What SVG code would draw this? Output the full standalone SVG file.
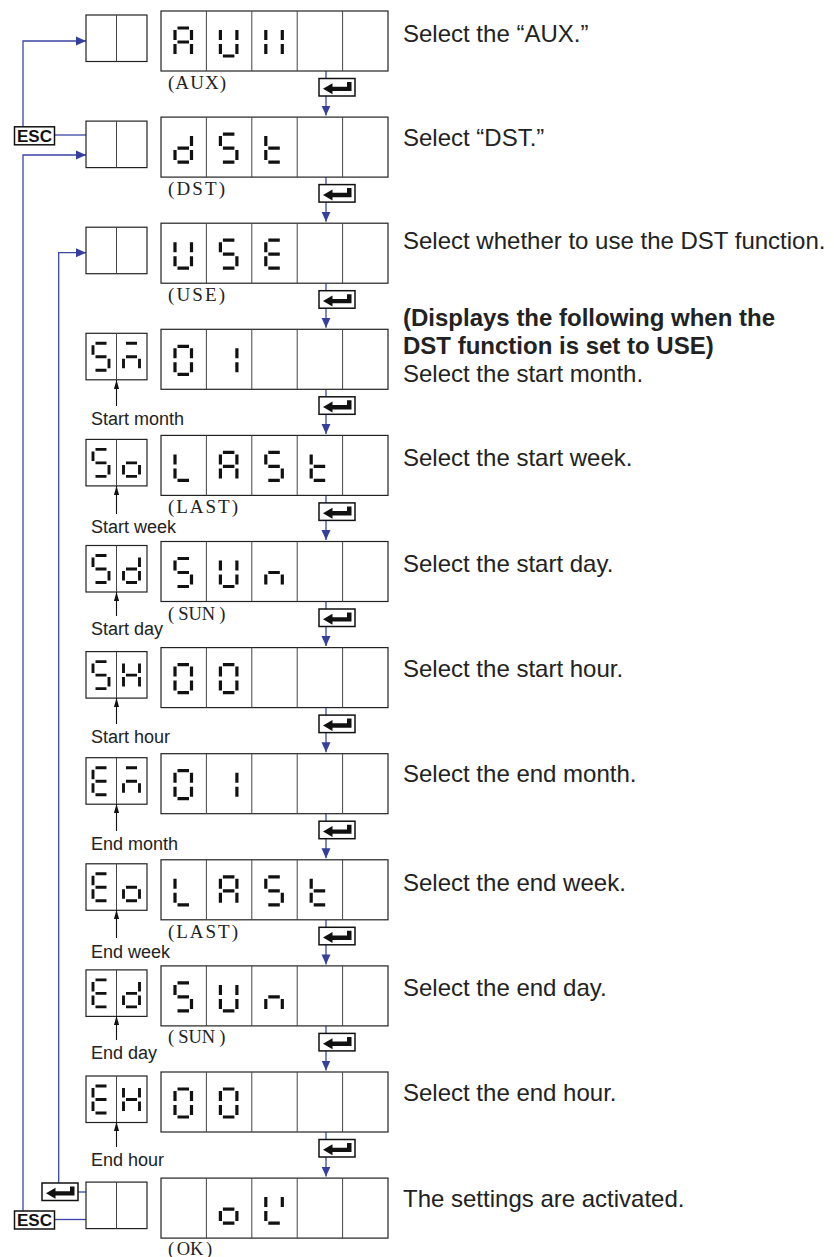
<svg xmlns="http://www.w3.org/2000/svg" width="834" height="1257" viewBox="0 0 834 1257">
<style>
.box{fill:#fff;stroke:#222;stroke-width:1.2}
.div{stroke:#444;stroke-width:1;fill:none}
.seg{stroke:#111;stroke-width:3.2;fill:none}
.sseg{stroke:#111;stroke-width:2.9;fill:none}
.blue{stroke:#3a46a4;stroke-width:1.3;fill:none}
.key{fill:#fff;stroke:#111;stroke-width:1.5}
.desc{font-family:"Liberation Sans",Arial,sans-serif;font-size:24px;fill:#222}
.bold{font-weight:bold}
.lbl{font-family:"Liberation Sans",Arial,sans-serif;font-size:18px;fill:#222}
.par{font-family:"Liberation Serif","Times New Roman",serif;font-size:19px;fill:#222}
.par2{font-family:"Liberation Serif","Times New Roman",serif;font-size:18.5px;fill:#222}
.up{stroke:#111;stroke-width:1.1;fill:none}
.esc{font-family:"Liberation Sans",Arial,sans-serif;font-size:17px;font-weight:bold;fill:#111}
</style>
<defs>
<marker id="ab" markerUnits="userSpaceOnUse" markerWidth="10" markerHeight="10" refX="10" refY="5" orient="auto"><path d="M0,0.5L10,5L0,9.5Z" fill="#343f9e"/></marker>
<marker id="ak" markerUnits="userSpaceOnUse" markerWidth="9" markerHeight="6" refX="9" refY="3" orient="auto"><path d="M0,0.4L9,3L0,5.6Z" fill="#111"/></marker>
<g id="bigbox"><rect class="box" x="0" y="0" width="227" height="60"/><path class="div" d="M45.4,0V60M90.8,0V60M136.2,0V60M181.6,0V60"/></g>
<g id="smallbox"><rect class="box" x="0" y="0" width="61" height="46.5"/><path class="div" d="M30.5,0V46.5"/></g>
<g id="enter"><rect class="key" x="0" y="0" width="36" height="17.5"/><path d="M4,10.3L13.5,4.8V8.2H28V3.5H32.5V12.6H13.5V15.8Z" fill="#111"/></g>
<g id="escbox"><rect class="key" x="0" y="0" width="40" height="18"/><text class="esc" x="20" y="15" text-anchor="middle">ESC</text></g>
<!-- large 7-seg glyphs -->
<path id="LA" class="seg" d="M16.5,17H28M30.5,19V29M30.5,33V43M14,33V43M14,19V29M16.5,31H28"/>
<path id="LU" class="seg" d="M30.5,19V29M30.5,33V43M16.5,45H28M14,33V43M14,19V29"/>
<path id="LX" class="seg" d="M30.5,19V29M30.5,33V43M14,33V43M14,19V29"/>
<path id="Ld" class="seg" d="M30.5,19V29M30.5,33V43M16.5,45H28M14,33V43M16.5,31H28"/>
<path id="L5" class="seg" d="M16.5,17H28M14,19V29M16.5,31H28M30.5,33V43M16.5,45H28"/>
<path id="Lt" class="seg" d="M14,19V29M14,33V43M16.5,31H28M16.5,45H28"/>
<path id="LE" class="seg" d="M16.5,17H28M14,19V29M16.5,31H28M14,33V43M16.5,45H28"/>
<path id="L0" class="seg" d="M16.5,17H28M30.5,19V29M30.5,33V43M16.5,45H28M14,33V43M14,19V29"/>
<path id="L1" class="seg" d="M30.5,19V29M30.5,33V43"/>
<path id="LL" class="seg" d="M14,19V29M14,33V43M16.5,45H28"/>
<path id="Ln" class="seg" d="M14,33V43M16.5,31H28M30.5,33V43"/>
<path id="Lo" class="seg" d="M30.5,33V43M16.5,45H28M14,33V43M16.5,31H28"/>
<path id="LK" class="seg" d="M14,19V29M14,33V43M30.5,19V29M16.5,45H28"/>
<!-- small 7-seg glyphs -->
<path id="s5" class="sseg" d="M9.5,10H20.5M7,12V21.5M9.5,23.5H20.5M23,25.5V35M9.5,37H20.5"/>
<path id="sm" class="sseg" d="M9.5,10H20.5M9.5,23.5H20.5M7,25.5V35M23,25.5V35"/>
<path id="so" class="sseg" d="M23,25.5V35M9.5,37H20.5M7,25.5V35M9.5,23.5H20.5"/>
<path id="sd" class="sseg" d="M23,12V21.5M23,25.5V35M9.5,37H20.5M7,25.5V35M9.5,23.5H20.5"/>
<path id="sH" class="sseg" d="M23,12V21.5M23,25.5V35M7,25.5V35M7,12V21.5M9.5,23.5H20.5"/>
<path id="sE" class="sseg" d="M9.5,10H20.5M7,12V21.5M9.5,23.5H20.5M7,25.5V35M9.5,37H20.5"/>
</defs>
<rect width="834" height="1257" fill="#fff"/>

<g id="connectors">
<path class="blue" marker-end="url(#ab)" d="M326,71V115.6"/>
<path class="blue" marker-end="url(#ab)" d="M326,177.1V221.7"/>
<path class="blue" marker-end="url(#ab)" d="M326,283.2V327.8"/>
<path class="blue" marker-end="url(#ab)" d="M326,389.3V433.9"/>
<path class="blue" marker-end="url(#ab)" d="M326,495.4V540"/>
<path class="blue" marker-end="url(#ab)" d="M326,601.5V646.1"/>
<path class="blue" marker-end="url(#ab)" d="M326,707.6V752.2"/>
<path class="blue" marker-end="url(#ab)" d="M326,813.7V858.3"/>
<path class="blue" marker-end="url(#ab)" d="M326,919.8V964.4"/>
<path class="blue" marker-end="url(#ab)" d="M326,1025.9V1070.5"/>
<path class="blue" marker-end="url(#ab)" d="M326,1132V1176.6"/>
<path class="blue" marker-end="url(#ab)" d="M23,127V41H86"/>
<path class="blue" d="M54.5,135H86"/>
<path class="blue" marker-end="url(#ab)" d="M23,1211V155H86"/>
<path class="blue" d="M54.5,1219.5H86"/>
<path class="blue" marker-end="url(#ab)" d="M58.7,1183V252.7H86"/>
<path class="blue" d="M78,1192H86"/>
<use href="#enter" x="319" y="78.5"/>
<use href="#enter" x="319" y="184.6"/>
<use href="#enter" x="319" y="290.7"/>
<use href="#enter" x="319" y="396.8"/>
<use href="#enter" x="319" y="502.9"/>
<use href="#enter" x="319" y="609"/>
<use href="#enter" x="319" y="715.1"/>
<use href="#enter" x="319" y="821.2"/>
<use href="#enter" x="319" y="927.3"/>
<use href="#enter" x="319" y="1033.4"/>
<use href="#enter" x="319" y="1139.5"/>
<use href="#escbox" x="14.5" y="126.8"/>
<use href="#escbox" x="14.5" y="1211"/>
<use href="#enter" x="42" y="1183"/>
</g>

<g id="row1">
<use href="#smallbox" x="86" y="15"/>
<use href="#bigbox" x="161" y="11"/>
<use href="#LA" x="161" y="11"/><use href="#LU" x="206.4" y="11"/><use href="#LX" x="251.8" y="11"/>
<text class="par" x="168" y="89" textLength="58" lengthAdjust="spacing">(AUX)</text>
<text class="desc" x="403" y="42">Select the “AUX.”</text>
</g>

<g id="row2">
<use href="#smallbox" x="86" y="121.1"/>
<use href="#bigbox" x="161" y="117.1"/>
<use href="#Ld" x="161" y="117.1"/><use href="#L5" x="206.4" y="117.1"/><use href="#Lt" x="251.8" y="117.1"/>
<text class="par" x="168" y="194.5" textLength="57" lengthAdjust="spacing">(DST)</text>
<text class="desc" x="403" y="145.5">Select “DST.”</text>
</g>

<g id="row3">
<use href="#smallbox" x="86" y="227.2"/>
<use href="#bigbox" x="161" y="223.2"/>
<use href="#LU" x="161" y="223.2"/><use href="#L5" x="206.4" y="223.2"/><use href="#LE" x="251.8" y="223.2"/>
<text class="par" x="168" y="300.5" textLength="57" lengthAdjust="spacing">(USE)</text>
<text class="desc" x="403" y="249">Select whether to use the DST function.</text>
</g>

<g id="row4">
<use href="#smallbox" x="86" y="333.3"/>
<use href="#s5" x="86" y="333.3"/><use href="#sm" x="116.5" y="333.3"/>
<use href="#bigbox" x="161" y="329.3"/>
<use href="#L0" x="161" y="329.3"/><use href="#L1" x="206.4" y="329.3"/>
<path class="up" marker-end="url(#ak)" d="M116.5,406V380"/>
<text class="lbl" x="91" y="425">Start month</text>
<text class="desc bold" x="403" y="325.5">(Displays the following when the</text>
<text class="desc bold" x="403" y="353.8">DST function is set to USE)</text>
<text class="desc" x="403" y="382">Select the start month.</text>
</g>

<g id="row5">
<use href="#smallbox" x="86" y="439.4"/>
<use href="#s5" x="86" y="439.4"/><use href="#so" x="116.5" y="439.4"/>
<use href="#bigbox" x="161" y="435.4"/>
<use href="#LL" x="161" y="435.4"/><use href="#LA" x="206.4" y="435.4"/><use href="#L5" x="251.8" y="435.4"/><use href="#Lt" x="297.2" y="435.4"/>
<text class="par" x="168" y="513" textLength="70" lengthAdjust="spacing">(LAST)</text>
<path class="up" marker-end="url(#ak)" d="M116.5,514V486"/>
<text class="lbl" x="91" y="533">Start week</text>
<text class="desc" x="403" y="465.5">Select the start week.</text>
</g>

<g id="row6">
<use href="#smallbox" x="86" y="545.5"/>
<use href="#s5" x="86" y="545.5"/><use href="#sd" x="116.5" y="545.5"/>
<use href="#bigbox" x="161" y="541.5"/>
<use href="#L5" x="161" y="541.5"/><use href="#LU" x="206.4" y="541.5"/><use href="#Ln" x="251.8" y="541.5"/>
<text class="par2" x="168" y="620">(<tspan dx="4">SUN</tspan><tspan dx="4">)</tspan></text>
<path class="up" marker-end="url(#ak)" d="M116.5,616V592"/>
<text class="lbl" x="91" y="635">Start day</text>
<text class="desc" x="403" y="572">Select the start day.</text>
</g>

<g id="row7">
<use href="#smallbox" x="86" y="651.6"/>
<use href="#s5" x="86" y="651.6"/><use href="#sH" x="116.5" y="651.6"/>
<use href="#bigbox" x="161" y="647.6"/>
<use href="#L0" x="161" y="647.6"/><use href="#L0" x="206.4" y="647.6"/>
<path class="up" marker-end="url(#ak)" d="M116.5,724V698"/>
<text class="lbl" x="91" y="743">Start hour</text>
<text class="desc" x="403" y="677">Select the start hour.</text>
</g>

<g id="row8">
<use href="#smallbox" x="86" y="757.7"/>
<use href="#sE" x="86" y="757.7"/><use href="#sm" x="116.5" y="757.7"/>
<use href="#bigbox" x="161" y="753.7"/>
<use href="#L0" x="161" y="753.7"/><use href="#L1" x="206.4" y="753.7"/>
<path class="up" marker-end="url(#ak)" d="M116.5,831V804"/>
<text class="lbl" x="91" y="850">End month</text>
<text class="desc" x="403" y="781.5">Select the end month.</text>
</g>

<g id="row9">
<use href="#smallbox" x="86" y="863.8"/>
<use href="#sE" x="86" y="863.8"/><use href="#so" x="116.5" y="863.8"/>
<use href="#bigbox" x="161" y="859.8"/>
<use href="#LL" x="161" y="859.8"/><use href="#LA" x="206.4" y="859.8"/><use href="#L5" x="251.8" y="859.8"/><use href="#Lt" x="297.2" y="859.8"/>
<text class="par" x="168" y="937.5" textLength="70" lengthAdjust="spacing">(LAST)</text>
<path class="up" marker-end="url(#ak)" d="M116.5,938V910"/>
<text class="lbl" x="91" y="957.5">End week</text>
<text class="desc" x="403" y="890.5">Select the end week.</text>
</g>

<g id="row10">
<use href="#smallbox" x="86" y="969.9"/>
<use href="#sE" x="86" y="969.9"/><use href="#sd" x="116.5" y="969.9"/>
<use href="#bigbox" x="161" y="965.9"/>
<use href="#L5" x="161" y="965.9"/><use href="#LU" x="206.4" y="965.9"/><use href="#Ln" x="251.8" y="965.9"/>
<text class="par2" x="168" y="1043">(<tspan dx="4">SUN</tspan><tspan dx="4">)</tspan></text>
<path class="up" marker-end="url(#ak)" d="M116.5,1040V1016"/>
<text class="lbl" x="91" y="1059">End day</text>
<text class="desc" x="403" y="995.5">Select the end day.</text>
</g>

<g id="row11">
<use href="#smallbox" x="86" y="1076"/>
<use href="#sE" x="86" y="1076"/><use href="#sH" x="116.5" y="1076"/>
<use href="#bigbox" x="161" y="1072"/>
<use href="#L0" x="161" y="1072"/><use href="#L0" x="206.4" y="1072"/>
<path class="up" marker-end="url(#ak)" d="M116.5,1147V1122"/>
<text class="lbl" x="91" y="1166">End hour</text>
<text class="desc" x="403" y="1100.5">Select the end hour.</text>
</g>

<g id="row12">
<use href="#smallbox" x="86" y="1182.1"/>
<use href="#bigbox" x="161" y="1178.1"/>
<use href="#Lo" x="206.4" y="1178.1"/><use href="#LK" x="251.8" y="1178.1"/>
<text class="par2" x="168" y="1254.5">(<tspan dx="2.5">OK</tspan><tspan dx="2.5">)</tspan></text>
<text class="desc" x="403" y="1207">The settings are activated.</text>
</g>
</svg>
